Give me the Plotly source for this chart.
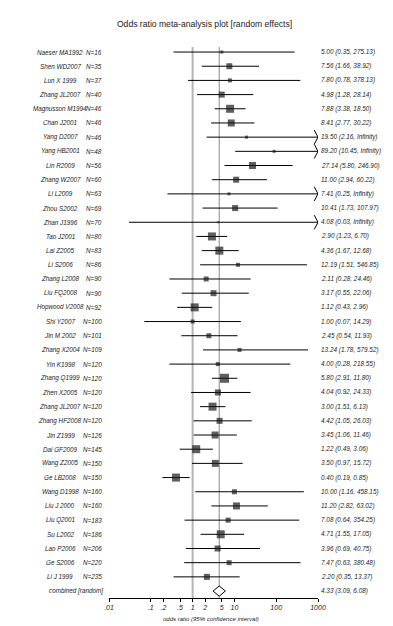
import math
import plotly.graph_objects as go

studies = ["Naeser MA1992", "Shen WD2007", "Lun X 1999", "Zhang JL2007", "Magnusson M1994",
           "Chan J2001", "Yang D2007", "Yang HB2001", "Lin R2009", "Zhang W2007",
           "Li L2009", "Zhou S2002", "Zhan J1996", "Tao J2001", "Lai Z2005",
           "Li S2006", "Zhang L2008", "Liu FQ2008", "Hopwood V2008", "Shi Y2007",
           "Jin M 2002", "Zhang X2004", "Yin K1998", "Zhang Q1999", "Zhen X2005",
           "Zhang JL2007", "Zhang HF2008", "Jin Z1999", "Dai GF2009", "Wang Z2005",
           "Ge LB2008", "Wang D1998", "Liu J 2000", "Liu Q2001", "Su L2002",
           "Lao P2006", "Ge S2006", "Li J 1999"]
n_subjects = [16, 35, 37, 40, 46, 46, 46, 48, 56, 60,
              63, 69, 70, 80, 83, 86, 90, 90, 92, 100,
              101, 109, 120, 120, 120, 120, 120, 126, 145, 150,
              150, 160, 160, 183, 186, 206, 220, 235]
odds_ratio = [5.00, 7.56, 7.80, 4.98, 7.88, 8.41, 19.50, 89.20, 27.14, 11.00,
              7.41, 10.41, 4.08, 2.90, 4.36, 12.19, 2.11, 3.17, 1.12, 1.00,
              2.45, 13.24, 4.00, 5.80, 4.04, 3.00, 4.42, 3.45, 1.22, 3.50,
              0.40, 10.00, 11.20, 7.08, 4.71, 3.96, 7.47, 2.20]
ci_low = [0.35, 1.66, 0.78, 1.28, 3.38, 2.77, 2.16, 10.45, 5.80, 2.94,
          0.25, 1.73, 0.03, 1.23, 1.67, 1.51, 0.28, 0.55, 0.43, 0.07,
          0.54, 1.78, 0.28, 2.91, 0.92, 1.51, 1.05, 1.06, 0.49, 0.97,
          0.19, 1.16, 2.82, 0.64, 1.55, 0.69, 0.63, 0.35]
INF = float("inf")
ci_high = [275.13, 38.92, 378.13, 28.14, 18.50, 30.22, INF, INF, 246.90, 60.22,
           INF, 107.97, INF, 6.70, 12.68, 546.85, 24.46, 22.06, 2.96, 14.29,
           11.93, 579.52, 218.55, 11.80, 24.33, 6.13, 26.03, 11.46, 3.06, 15.72,
           0.85, 458.15, 63.02, 354.25, 17.05, 40.75, 380.48, 13.37]
rel_weight = [3, 6, 4, 6, 8, 7, 3, 3, 7, 6,
              3, 6, 2, 8, 8, 4, 5, 6, 8, 4,
              5, 4, 4, 9, 6, 8, 6, 7, 8, 7,
              8, 5, 7, 5, 8, 6, 5, 6]
pooled_label = "combined [random]"
pooled_or, pooled_low, pooled_high = 4.33, 3.09, 6.08
tick_vals = [0.01, 0.1, 0.2, 0.5, 1, 2, 5, 10, 100, 1000]
tick_text = [".01", ".1", ".2", ".5", "1", "2", "5", "10", "100", "1000"]

XMIN, XMAX = 0.01, 1000
TXT = "#222222"
FONT = "Liberation Sans, Arial"

nrow = len(studies)
rows = list(range(nrow))
pooled_row = nrow

fig = go.Figure()

# CI lines
lx, ly = [], []
for i in rows:
    hi = ci_high[i] if math.isfinite(ci_high[i]) else XMAX
    lx += [ci_low[i], hi, None]
    ly += [i, i, None]
    if not math.isfinite(ci_high[i]):
        back = 10 ** (math.log10(XMAX) - 0.09)
        lx += [back, XMAX, back, None]
        ly += [i - 0.5, i, i + 0.5, None]
fig.add_trace(go.Scatter(x=lx, y=ly, mode="lines", line=dict(color="black", width=1),
                         hoverinfo="skip", showlegend=False, cliponaxis=False))

# squares
fig.add_trace(go.Scatter(x=odds_ratio, y=rows, mode="markers",
                         marker=dict(symbol="square", size=[w * 1.0 for w in rel_weight],
                                     color="#1a1a1a", line=dict(width=0)),
                         showlegend=False, hoverinfo="skip"))

# reference lines
fig.add_shape(type="line", x0=1, x1=1, y0=-0.35, y1=nrow + 0.49, xref="x", yref="y",
              line=dict(color="#b4b4b4", width=2), layer="below")
fig.add_shape(type="line", x0=pooled_or, x1=pooled_or, y0=-0.35, y1=nrow + 0.49, xref="x", yref="y",
              line=dict(color="#888888", width=1), layer="below")

# pooled diamond
fig.add_trace(go.Scatter(x=[pooled_low, pooled_or, pooled_high, pooled_or, pooled_low],
                         y=[pooled_row, pooled_row - 0.36, pooled_row, pooled_row + 0.36, pooled_row],
                         mode="lines", fill="toself", fillcolor="white",
                         line=dict(color="black", width=1), showlegend=False, hoverinfo="skip"))

# left/right labels
def fmt(v):
    return "Infinity" if not math.isfinite(v) else f"{v:.2f}"

LS = 6.3
RS = 6.4
for i in rows:
    fig.add_annotation(x=-0.234, xref="paper", y=i, yref="y", text=f"<i>{studies[i]}</i>",
                       showarrow=False, xanchor="center", font=dict(size=LS, color=TXT, family=FONT))
    fig.add_annotation(x=-0.024, xref="paper", y=i, yref="y", text=f"<i>N={n_subjects[i]}</i>",
                       showarrow=False, xanchor="right", font=dict(size=LS, color=TXT, family=FONT))
    fig.add_annotation(x=1.005, xref="paper", y=i, yref="y",
                       text=f"<i>{fmt(odds_ratio[i])} ({fmt(ci_low[i])}, {fmt(ci_high[i])})</i>",
                       showarrow=False, xanchor="left", font=dict(size=RS, color=TXT, family=FONT))
fig.add_annotation(x=-0.02, xref="paper", y=pooled_row, yref="y", text=f"<i>{pooled_label}</i>",
                   showarrow=False, xanchor="right", font=dict(size=LS, color=TXT, family=FONT))
fig.add_annotation(x=1.005, xref="paper", y=pooled_row, yref="y",
                   text=f"<i>{fmt(pooled_or)} ({fmt(pooled_low)}, {fmt(pooled_high)})</i>",
                   showarrow=False, xanchor="left", font=dict(size=RS, color=TXT, family=FONT))
fig.add_annotation(x=0.49, xref="paper", y=-0.037, yref="paper", yanchor="middle",
                   text="<i>odds ratio (95% confidence interval)</i>",
                   showarrow=False, font=dict(size=6, color=TXT, family=FONT))

fig.update_layout(
    width=393, height=626,
    margin=dict(l=101, r=83, t=30, b=36),
    paper_bgcolor="white", plot_bgcolor="white",
    title=dict(text="Odds ratio meta-analysis plot [random effects]", x=0.5, xanchor="center",
               xref="container", y=1 - 16 / 626, yanchor="middle",
               font=dict(size=8.6, color=TXT, family=FONT)),
    xaxis=dict(type="log", range=[math.log10(XMIN), math.log10(XMAX)],
               tickvals=tick_vals, ticktext=tick_text, showgrid=False, zeroline=False,
               showline=True, linecolor="black", linewidth=1, ticks="outside", ticklen=3,
               tickcolor="black", tickfont=dict(size=7, color=TXT, family=FONT, style="italic")),
    yaxis=dict(range=[nrow + 0.49, -0.99], showgrid=False, zeroline=False, showticklabels=False,
               showline=False, ticks=""),
    showlegend=False,
)

fig.write_html("out.html")
